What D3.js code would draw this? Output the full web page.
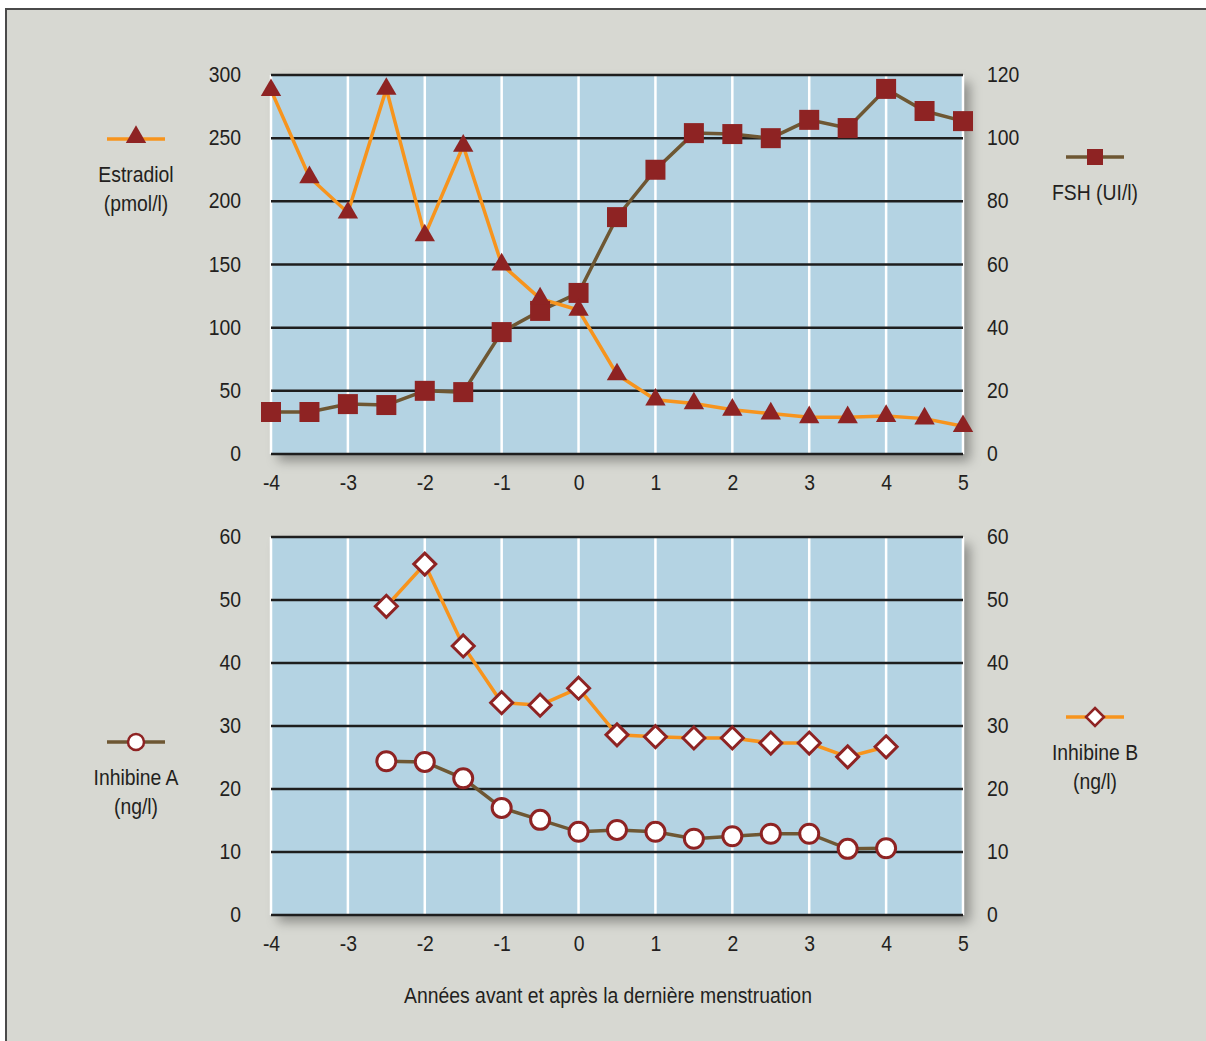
<!DOCTYPE html>
<html>
<head>
<meta charset="utf-8">
<script src="https://cdn.jsdelivr.net/npm/d3@7/dist/d3.min.js"></script>
<style>
  body { margin: 0; background: #fff; }
  text {
    font-family: "Liberation Sans", Arial, sans-serif; fill: #231f20;
    transform-box: fill-box; transform-origin: 50% 50%; transform: scaleX(0.88);
  }
  .axis-left text { transform-origin: 100% 50%; }
  .axis-right text { transform-origin: 0% 50%; }
  .tick text { font-size: 22px; }
  .leg { font-size: 22px; }
</style>
</head>
<body>
<div id="chart"></div>
<script>
// x positions (years before / after last menstruation)
var years = [-4, -3.5, -3, -2.5, -2, -1.5, -1, -0.5, 0, 0.5, 1, 1.5, 2, 2.5, 3, 3.5, 4, 4.5, 5];
var estradiol = [288, 219, 191, 289, 173, 244, 150, 123, 114, 63, 43, 40, 35, 32, 29, 29, 30, 28, 22];
var fsh = [13.3, 13.3, 15.8, 15.5, 20, 19.6, 38.6, 45.3, 51, 75, 90, 101.6, 101.3, 100, 105.8, 103.2, 115.6, 108.6, 105.4];

var yearsInh = [-2.5, -2, -1.5, -1, -0.5, 0, 0.5, 1, 1.5, 2, 2.5, 3, 3.5, 4];
var inhibineB = [49, 55.7, 42.7, 33.7, 33.3, 36, 28.6, 28.3, 28.1, 28.1, 27.3, 27.3, 25.1, 26.7];
var inhibineA = [24.4, 24.3, 21.7, 17, 15.1, 13.2, 13.5, 13.2, 12.1, 12.5, 12.9, 12.9, 10.5, 10.6];

var xTicks = [-4, -3, -2, -1, 0, 1, 2, 3, 4, 5];
var estradiolTicks = [0, 50, 100, 150, 200, 250, 300];
var fshTicks = [0, 20, 40, 60, 80, 100, 120];
var inhTicks = [0, 10, 20, 30, 40, 50, 60];

var orange = "#f7941d", brown = "#6e5733", red = "#8e2323";
var W = 1206, H = 1041;

var svg = d3.select("#chart").append("svg")
    .attr("width", W)
    .attr("height", H);

var defs = svg.append("defs");
var f = defs.append("filter").attr("id", "shadow")
    .attr("x", "-5%").attr("y", "-5%").attr("width", "115%").attr("height", "120%");
f.append("feDropShadow")
    .attr("dx", 7).attr("dy", 7).attr("stdDeviation", 6)
    .attr("flood-color", "#000").attr("flood-opacity", 0.35);

// frame
svg.append("rect")
    .attr("x", 6).attr("y", 9)
    .attr("width", W).attr("height", H)
    .attr("fill", "#d7d8d2")
    .attr("stroke", "#4a4a4a")
    .attr("stroke-width", 2);

var x = d3.scaleLinear().domain([-4, 5]).range([271, 963]);

function panel(y0, y1, yl, yr, ticksL, ticksR, labelY) {
    var g = svg.append("g");
    g.append("rect")
        .attr("x", x(-4)).attr("y", y0)
        .attr("width", x(5) - x(-4)).attr("height", y1 - y0)
        .attr("fill", "#b4d3e3")
        .attr("filter", "url(#shadow)");

    // vertical white gridlines
    g.selectAll(".vgrid").data(xTicks).enter().append("line")
        .attr("x1", function(d) { return x(d); })
        .attr("x2", function(d) { return x(d); })
        .attr("y1", y0).attr("y2", y1)
        .attr("stroke", "#fff").attr("stroke-width", 2.5);

    // horizontal black gridlines
    g.selectAll(".hgrid").data(ticksL).enter().append("line")
        .attr("x1", x(-4)).attr("x2", x(5))
        .attr("y1", function(d) { return yl(d); })
        .attr("y2", function(d) { return yl(d); })
        .attr("stroke", "#1e1e1e").attr("stroke-width", 2.5);

    // axes
    var left = g.append("g")
        .attr("class", "axis-left")
        .attr("transform", "translate(" + (x(-4) - 30) + ",0)")
        .call(d3.axisLeft(yl).tickValues(ticksL).tickSize(0).tickPadding(0));
    var right = g.append("g")
        .attr("class", "axis-right")
        .attr("transform", "translate(" + (x(5) + 24) + ",0)")
        .call(d3.axisRight(yr).tickValues(ticksR).tickSize(0).tickPadding(0));
    var bot = g.append("g")
        .attr("class", "axis-bottom")
        .attr("transform", "translate(0," + labelY + ")")
        .call(d3.axisBottom(x).tickValues(xTicks).tickSize(0).tickPadding(0)
            .tickFormat(d3.format("d")));
    [left, right, bot].forEach(function(a) {
        a.select(".domain").remove();
        a.selectAll("text").style("font-size", "22px").attr("fill", "#231f20");
    });
    left.selectAll("text").attr("dy", "0.3em");
    right.selectAll("text").attr("dy", "0.3em");
    bot.selectAll("text").attr("dy", "0.7em").text(function(d) { return d < 0 ? "-" + (-d) : d; });
    return g;
}

// ---------- top panel ----------
var yE = d3.scaleLinear().domain([0, 300]).range([454, 75]);
var yF = d3.scaleLinear().domain([0, 120]).range([454, 75]);
var topPanel = panel(75, 454, yE, yF, estradiolTicks, fshTicks, 475);

var fshData = years.map(function(d, i) { return {x: d, y: fsh[i]}; });
var estData = years.map(function(d, i) { return {x: d, y: estradiol[i]}; });

topPanel.append("path")
    .datum(fshData)
    .attr("fill", "none").attr("stroke", brown).attr("stroke-width", 3.5)
    .attr("d", d3.line().x(function(d) { return x(d.x); }).y(function(d) { return yF(d.y); }));
topPanel.append("path")
    .datum(estData)
    .attr("fill", "none").attr("stroke", orange).attr("stroke-width", 3.5)
    .attr("d", d3.line().x(function(d) { return x(d.x); }).y(function(d) { return yE(d.y); }));

var tri = d3.symbol().type(d3.symbolTriangle).size(180);
var sq = d3.symbol().type(d3.symbolSquare).size(400);

topPanel.selectAll(".sq").data(fshData).enter().append("path")
    .attr("d", sq)
    .attr("transform", function(d) { return "translate(" + x(d.x) + "," + yF(d.y) + ")"; })
    .attr("fill", red);
topPanel.selectAll(".tri").data(estData).enter().append("path")
    .attr("d", tri)
    .attr("transform", function(d) { return "translate(" + x(d.x) + "," + yE(d.y) + ")"; })
    .attr("fill", red);

// ---------- bottom panel ----------
var yI = d3.scaleLinear().domain([0, 60]).range([915, 537]);
var bottomPanel = panel(537, 915, yI, yI, inhTicks, inhTicks, 936);

var aData = yearsInh.map(function(d, i) { return {x: d, y: inhibineA[i]}; });
var bData = yearsInh.map(function(d, i) { return {x: d, y: inhibineB[i]}; });

bottomPanel.append("path")
    .datum(aData)
    .attr("fill", "none").attr("stroke", brown).attr("stroke-width", 3.5)
    .attr("d", d3.line().x(function(d) { return x(d.x); }).y(function(d) { return yI(d.y); }));
bottomPanel.append("path")
    .datum(bData)
    .attr("fill", "none").attr("stroke", orange).attr("stroke-width", 3.5)
    .attr("d", d3.line().x(function(d) { return x(d.x); }).y(function(d) { return yI(d.y); }));

var diamond = "M0,-11L11,0L0,11L-11,0Z";

bottomPanel.selectAll(".circ").data(aData).enter().append("circle")
    .attr("cx", function(d) { return x(d.x); })
    .attr("cy", function(d) { return yI(d.y); })
    .attr("r", 9.5)
    .attr("fill", "#fff").attr("stroke", red).attr("stroke-width", 3);
bottomPanel.selectAll(".dia").data(bData).enter().append("path")
    .attr("d", diamond)
    .attr("transform", function(d) { return "translate(" + x(d.x) + "," + yI(d.y) + ")"; })
    .attr("fill", "#fff").attr("stroke", red).attr("stroke-width", 3);

// ---------- legends ----------
function legend(cx, cy, color, marker, lines) {
    var g = svg.append("g").attr("transform", "translate(" + cx + "," + cy + ")");
    g.append("line").attr("x1", -29).attr("x2", 29).attr("y1", 0).attr("y2", 0)
        .attr("stroke", color).attr("stroke-width", 3.5);
    marker(g);
    lines.forEach(function(t, i) {
        g.append("text").attr("class", "leg")
            .attr("x", 0).attr("y", 43 + i * 29)
            .attr("text-anchor", "middle")
            .text(t);
    });
}

legend(136, 139, orange, function(g) {
    g.append("path").attr("d", tri).attr("transform", "translate(0,-2)").attr("fill", red);
}, ["Estradiol", "(pmol/l)"]);

legend(1095, 157, brown, function(g) {
    g.append("path").attr("d", d3.symbol().type(d3.symbolSquare).size(256)).attr("fill", red);
}, ["FSH (UI/l)"]);

legend(136, 742, brown, function(g) {
    g.append("circle").attr("r", 8).attr("fill", "#fff").attr("stroke", red).attr("stroke-width", 2.5);
}, ["Inhibine A", "(ng/l)"]);

legend(1095, 717, orange, function(g) {
    g.append("path").attr("d", "M0,-9L9,0L0,9L-9,0Z")
        .attr("fill", "#fff").attr("stroke", red).attr("stroke-width", 2.5);
}, ["Inhibine B", "(ng/l)"]);

// x axis title
svg.append("text").attr("class", "leg")
    .attr("x", 608).attr("y", 1003)
    .attr("text-anchor", "middle")
    .text("Années avant et après la dernière menstruation");
</script>
</body>
</html>
